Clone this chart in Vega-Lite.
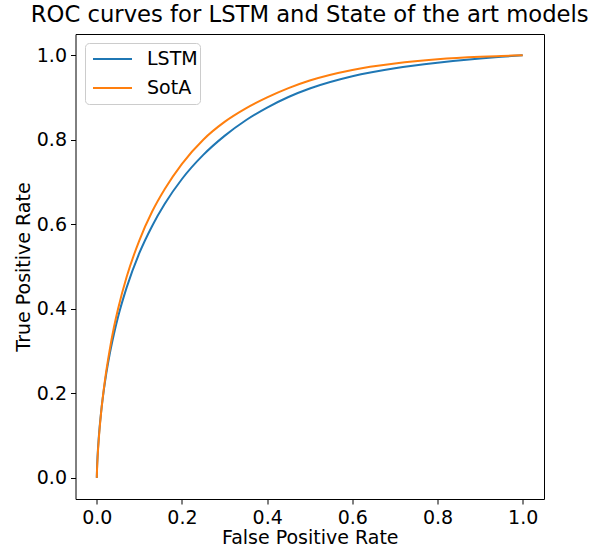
{
  "$schema": "https://vega.github.io/schema/vega-lite/v6.json",
  "autosize": {"type": "none"},
  "padding": {"left": 75.5, "top": 34, "right": 56, "bottom": 47},
  "width": 468.5,
  "height": 465,
  "background": "white",
  "title": {"text": "ROC curves for LSTM and State of the art models", "font": "DejaVu Sans", "fontSize": 22.7, "fontWeight": "normal", "color": "black", "anchor": "middle", "offset": 7},
  "config": {
    "view": {"stroke": "black", "strokeWidth": 1},
    "axis": {"grid": false, "domain": false, "tickColor": "black", "tickSize": 5, "tickWidth": 1, "labelFont": "DejaVu Sans", "labelFontSize": 19, "labelColor": "black", "titleFont": "DejaVu Sans", "titleFontSize": 19, "titleFontWeight": "normal", "titleColor": "black", "labelPadding": 4},
    "legend": {"labelFont": "DejaVu Sans", "labelFontSize": 19, "labelColor": "black"}
  },
  "data": {"values": [
    {"model": "LSTM", "fpr": 0, "tpr": 0},
    {"model": "LSTM", "fpr": 0.0005, "tpr": 0.021},
    {"model": "LSTM", "fpr": 0.002, "tpr": 0.055},
    {"model": "LSTM", "fpr": 0.005, "tpr": 0.1},
    {"model": "LSTM", "fpr": 0.01, "tpr": 0.154},
    {"model": "LSTM", "fpr": 0.02, "tpr": 0.232},
    {"model": "LSTM", "fpr": 0.03, "tpr": 0.291},
    {"model": "LSTM", "fpr": 0.04, "tpr": 0.339},
    {"model": "LSTM", "fpr": 0.05, "tpr": 0.381},
    {"model": "LSTM", "fpr": 0.07, "tpr": 0.45},
    {"model": "LSTM", "fpr": 0.1, "tpr": 0.532},
    {"model": "LSTM", "fpr": 0.13, "tpr": 0.596},
    {"model": "LSTM", "fpr": 0.16, "tpr": 0.649},
    {"model": "LSTM", "fpr": 0.2, "tpr": 0.707},
    {"model": "LSTM", "fpr": 0.25, "tpr": 0.764},
    {"model": "LSTM", "fpr": 0.3, "tpr": 0.809},
    {"model": "LSTM", "fpr": 0.35, "tpr": 0.846},
    {"model": "LSTM", "fpr": 0.4, "tpr": 0.876},
    {"model": "LSTM", "fpr": 0.45, "tpr": 0.901},
    {"model": "LSTM", "fpr": 0.5, "tpr": 0.921},
    {"model": "LSTM", "fpr": 0.6, "tpr": 0.95},
    {"model": "LSTM", "fpr": 0.7, "tpr": 0.969},
    {"model": "LSTM", "fpr": 0.8, "tpr": 0.982},
    {"model": "LSTM", "fpr": 0.9, "tpr": 0.992},
    {"model": "LSTM", "fpr": 0.95, "tpr": 0.996},
    {"model": "LSTM", "fpr": 1, "tpr": 1},
    {"model": "SotA", "fpr": 0, "tpr": 0},
    {"model": "SotA", "fpr": 0.0005, "tpr": 0.017},
    {"model": "SotA", "fpr": 0.002, "tpr": 0.05},
    {"model": "SotA", "fpr": 0.005, "tpr": 0.096},
    {"model": "SotA", "fpr": 0.01, "tpr": 0.153},
    {"model": "SotA", "fpr": 0.02, "tpr": 0.237},
    {"model": "SotA", "fpr": 0.03, "tpr": 0.301},
    {"model": "SotA", "fpr": 0.04, "tpr": 0.355},
    {"model": "SotA", "fpr": 0.05, "tpr": 0.4},
    {"model": "SotA", "fpr": 0.07, "tpr": 0.475},
    {"model": "SotA", "fpr": 0.1, "tpr": 0.562},
    {"model": "SotA", "fpr": 0.13, "tpr": 0.63},
    {"model": "SotA", "fpr": 0.16, "tpr": 0.684},
    {"model": "SotA", "fpr": 0.2, "tpr": 0.743},
    {"model": "SotA", "fpr": 0.25, "tpr": 0.8},
    {"model": "SotA", "fpr": 0.3, "tpr": 0.842},
    {"model": "SotA", "fpr": 0.35, "tpr": 0.874},
    {"model": "SotA", "fpr": 0.4, "tpr": 0.9},
    {"model": "SotA", "fpr": 0.45, "tpr": 0.922},
    {"model": "SotA", "fpr": 0.5, "tpr": 0.94},
    {"model": "SotA", "fpr": 0.6, "tpr": 0.965},
    {"model": "SotA", "fpr": 0.7, "tpr": 0.98},
    {"model": "SotA", "fpr": 0.8, "tpr": 0.99},
    {"model": "SotA", "fpr": 0.9, "tpr": 0.996},
    {"model": "SotA", "fpr": 0.95, "tpr": 0.998},
    {"model": "SotA", "fpr": 1, "tpr": 1}
  ]},
  "mark": {"type": "line", "strokeWidth": 2, "interpolate": "monotone", "clip": true},
  "encoding": {
    "x": {"field": "fpr", "type": "quantitative", "title": "False Positive Rate",
      "scale": {"domain": [-0.05, 1.05], "nice": false, "zero": false},
      "axis": {"values": [0, 0.2, 0.4, 0.6, 0.8, 1.0], "format": ".1f", "titlePadding": 1}},
    "y": {"field": "tpr", "type": "quantitative", "title": "True Positive Rate",
      "scale": {"domain": [-0.05, 1.05], "nice": false, "zero": false},
      "axis": {"values": [0, 0.2, 0.4, 0.6, 0.8, 1.0], "format": ".1f", "titlePadding": 3}},
    "color": {"field": "model", "type": "nominal",
      "scale": {"domain": ["LSTM", "SotA"], "range": ["#1f77b4", "#ff7f0e"]},
      "legend": {"title": null, "orient": "none", "legendX": 9.5, "legendY": 9, "symbolType": "M-1,0L1,0", "symbolSize": 1521, "symbolStrokeWidth": 2, "symbolOffset": 5.5, "labelOffset": 14, "rowPadding": 0, "clipHeight": 29, "padding": 1.5, "strokeColor": "#cccccc", "fillColor": "rgba(255,255,255,0.8)", "cornerRadius": 4}
    }
  }
}
